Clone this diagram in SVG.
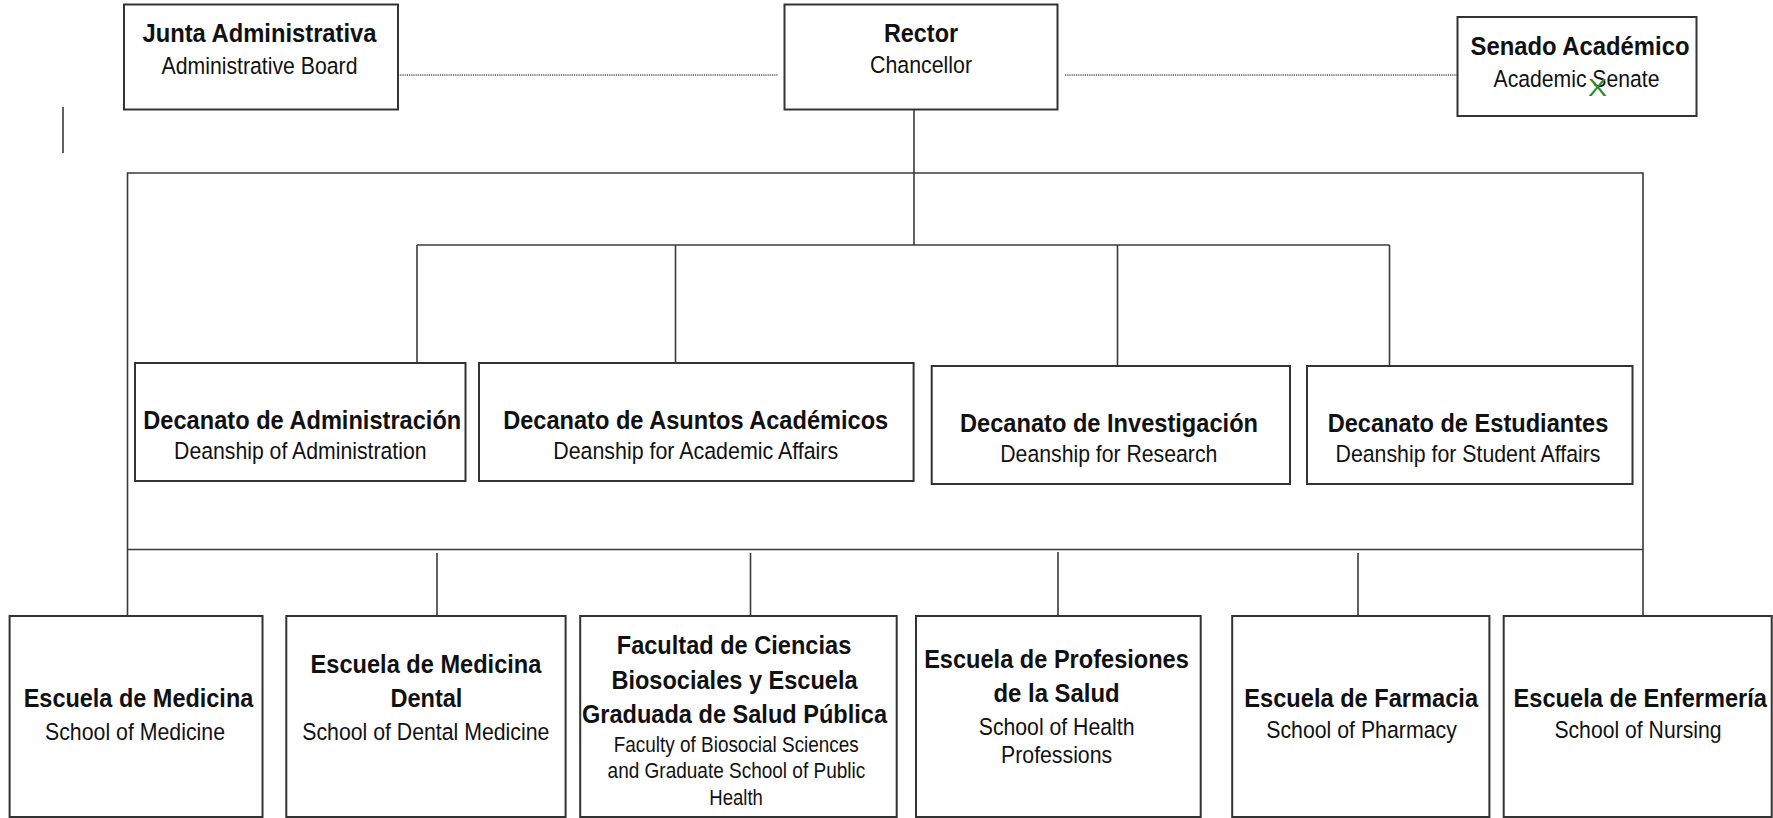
<svg xmlns="http://www.w3.org/2000/svg" width="1773" height="818" viewBox="0 0 1773 818">
<style>
.box{fill:#fff;stroke:#333;stroke-width:2}
.ln{stroke:#3a3a3a;stroke-width:1.6;fill:none}
.dot{stroke:#555;stroke-width:1.6;stroke-dasharray:1.2 1;fill:none}
text{font-family:"Liberation Sans",Arial,sans-serif;text-anchor:middle;fill:#111}
.t{font-size:26.5px;font-weight:bold}
.s{font-size:24.5px}
.ss{font-size:22.5px}
.x{font-size:23px;fill:#2e8b2e}
</style>
<rect width="1773" height="818" fill="#fff"/>
<g id="connectors">
<line class="dot" x1="398" y1="75" x2="778" y2="75"/>
<line class="dot" x1="1065" y1="75" x2="1457" y2="75"/>
<line class="ln" x1="63" y1="107" x2="63" y2="153"/>
<line class="ln" x1="914" y1="109" x2="914" y2="245"/>
<polyline class="ln" points="127.5,616 127.5,173 1643,173 1643,616"/>
<line class="ln" x1="127.5" y1="549.5" x2="1643" y2="549.5"/>
<line class="ln" x1="417" y1="245" x2="1389.5" y2="245"/>
<line class="ln" x1="417" y1="245" x2="417" y2="363"/>
<line class="ln" x1="675.5" y1="245" x2="675.5" y2="363"/>
<line class="ln" x1="1117.5" y1="245" x2="1117.5" y2="366"/>
<line class="ln" x1="1389.5" y1="245" x2="1389.5" y2="366"/>
<line class="ln" x1="437" y1="553" x2="437" y2="616"/>
<line class="ln" x1="750.5" y1="553" x2="750.5" y2="616"/>
<line class="ln" x1="1058" y1="552" x2="1058" y2="616"/>
<line class="ln" x1="1358" y1="553" x2="1358" y2="616"/>
</g>
<g id="junta">
<rect class="box" x="124" y="4.5" width="274" height="105"/>
<text class="t" x="259.5" y="42" textLength="234" lengthAdjust="spacingAndGlyphs">Junta Administrativa</text>
<text class="s" x="259.5" y="74" textLength="196" lengthAdjust="spacingAndGlyphs">Administrative Board</text>
</g>
<g id="rector">
<rect class="box" x="784.5" y="4.5" width="273" height="105"/>
<text class="t" x="921" y="42" textLength="74" lengthAdjust="spacingAndGlyphs">Rector</text>
<text class="s" x="921" y="73" textLength="102" lengthAdjust="spacingAndGlyphs">Chancellor</text>
</g>
<g id="senado">
<rect class="box" x="1457.5" y="17" width="239" height="99"/>
<text class="t" x="1580" y="55" textLength="219" lengthAdjust="spacingAndGlyphs">Senado Académico</text>
<text class="s" x="1576.5" y="86.5" textLength="166" lengthAdjust="spacingAndGlyphs">Academic Senate</text>
<text class="x" x="1597.5" y="95.5" textLength="19" lengthAdjust="spacingAndGlyphs">X</text>
</g>
<g id="decanato-administracion">
<rect class="box" x="135" y="363" width="330.5" height="118"/>
<text class="t" x="302.3" y="429" textLength="318" lengthAdjust="spacingAndGlyphs">Decanato de Administración</text>
<text class="s" x="300.3" y="459" textLength="252.5" lengthAdjust="spacingAndGlyphs">Deanship of Administration</text>
</g>
<g id="decanato-asuntos-academicos">
<rect class="box" x="479" y="363" width="434.6" height="118"/>
<text class="t" x="695.7" y="429" textLength="385" lengthAdjust="spacingAndGlyphs">Decanato de Asuntos Académicos</text>
<text class="s" x="695.7" y="459" textLength="285" lengthAdjust="spacingAndGlyphs">Deanship for Academic Affairs</text>
</g>
<g id="decanato-investigacion">
<rect class="box" x="931.7" y="366" width="358.3" height="118"/>
<text class="t" x="1109" y="432" textLength="298" lengthAdjust="spacingAndGlyphs">Decanato de Investigación</text>
<text class="s" x="1108.8" y="462" textLength="217" lengthAdjust="spacingAndGlyphs">Deanship for Research</text>
</g>
<g id="decanato-estudiantes">
<rect class="box" x="1307" y="366" width="325.5" height="118"/>
<text class="t" x="1468" y="432" textLength="280.6" lengthAdjust="spacingAndGlyphs">Decanato de Estudiantes</text>
<text class="s" x="1468" y="462" textLength="265" lengthAdjust="spacingAndGlyphs">Deanship for Student Affairs</text>
</g>
<g id="escuela-medicina">
<rect class="box" x="9.6" y="616" width="252.9" height="201"/>
<text class="t" x="138.5" y="707.3" textLength="229.6" lengthAdjust="spacingAndGlyphs">Escuela de Medicina</text>
<text class="s" x="135" y="740" textLength="180" lengthAdjust="spacingAndGlyphs">School of Medicine</text>
</g>
<g id="escuela-medicina-dental">
<rect class="box" x="286.3" y="616" width="279.3" height="201"/>
<text class="t" x="426" y="673.3" textLength="230.8" lengthAdjust="spacingAndGlyphs">Escuela de Medicina</text>
<text class="t" x="426.4" y="707.3" textLength="72" lengthAdjust="spacingAndGlyphs">Dental</text>
<text class="s" x="425.8" y="740" textLength="247" lengthAdjust="spacingAndGlyphs">School of Dental Medicine</text>
</g>
<g id="facultad-ciencias-biosociales">
<rect class="box" x="580.2" y="616" width="316.5" height="201"/>
<text class="t" x="734" y="654" textLength="234.5" lengthAdjust="spacingAndGlyphs">Facultad de Ciencias</text>
<text class="t" x="734.5" y="689.3" textLength="246.2" lengthAdjust="spacingAndGlyphs">Biosociales y Escuela</text>
<text class="t" x="734.5" y="723.3" textLength="305" lengthAdjust="spacingAndGlyphs">Graduada de Salud Pública</text>
<text class="ss" x="736.3" y="751.7" textLength="245" lengthAdjust="spacingAndGlyphs">Faculty of Biosocial Sciences</text>
<text class="ss" x="736.4" y="778.3" textLength="257.6" lengthAdjust="spacingAndGlyphs">and Graduate School of Public</text>
<text class="ss" x="736.1" y="805" textLength="53.5" lengthAdjust="spacingAndGlyphs">Health</text>
</g>
<g id="escuela-profesiones-salud">
<rect class="box" x="916" y="616" width="284.7" height="201"/>
<text class="t" x="1056.5" y="668.3" textLength="264.7" lengthAdjust="spacingAndGlyphs">Escuela de Profesiones</text>
<text class="t" x="1056.6" y="701.7" textLength="126.3" lengthAdjust="spacingAndGlyphs">de la Salud</text>
<text class="s" x="1056.6" y="735" textLength="155.7" lengthAdjust="spacingAndGlyphs">School of Health</text>
<text class="s" x="1056.6" y="763.3" textLength="111.1" lengthAdjust="spacingAndGlyphs">Professions</text>
</g>
<g id="escuela-farmacia">
<rect class="box" x="1232.2" y="616" width="257.2" height="201"/>
<text class="t" x="1361.2" y="707.3" textLength="233.7" lengthAdjust="spacingAndGlyphs">Escuela de Farmacia</text>
<text class="s" x="1361.5" y="738.3" textLength="190.6" lengthAdjust="spacingAndGlyphs">School of Pharmacy</text>
</g>
<g id="escuela-enfermeria">
<rect class="box" x="1503.7" y="616" width="268" height="201"/>
<text class="t" x="1640.3" y="707.3" textLength="253.4" lengthAdjust="spacingAndGlyphs">Escuela de Enfermería</text>
<text class="s" x="1638" y="738.3" textLength="167.2" lengthAdjust="spacingAndGlyphs">School of Nursing</text>
</g>
</svg>
